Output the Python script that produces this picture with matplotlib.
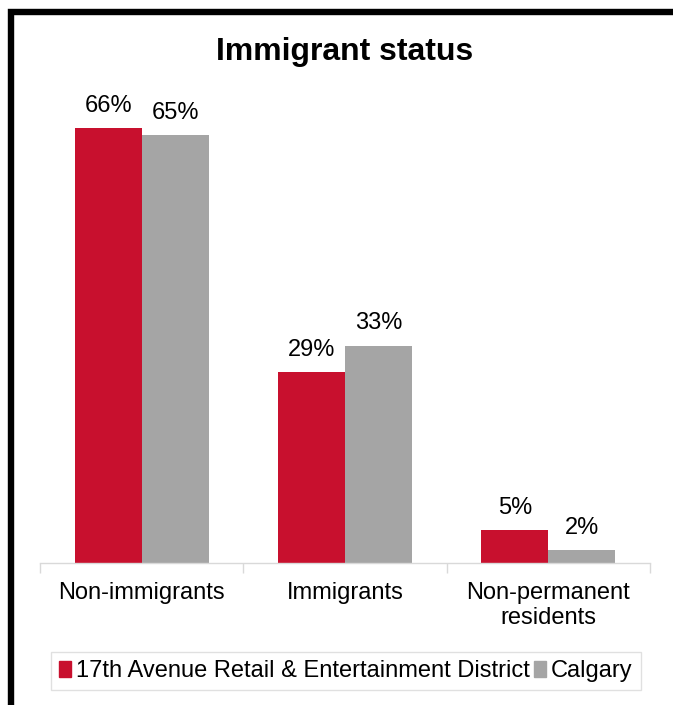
import matplotlib
matplotlib.use('agg')
import matplotlib.pyplot as plt
from matplotlib.patches import Patch, Rectangle
import numpy as np

categories = ['Non-immigrants', 'Immigrants', 'Non-permanent\nresidents']
district = [66, 29, 5]
calgary = [65, 33, 2]
series_names = ['17th Avenue Retail & Entertainment District', 'Calgary']

red = '#C8102E'
grey = '#A5A5A5'

plt.rcParams['font.family'] = ['Liberation Sans', 'DejaVu Sans']

W, H = 673, 705
fig = plt.figure(figsize=(W / 100, H / 100), dpi=100)

# axes placed in pixel terms
left, right, bottom, top = 40, 650, 563, 102
ax = fig.add_axes([left / W, 1 - bottom / H, (right - left) / W, (bottom - top) / H])

x = np.arange(len(categories))
w = 0.33
b1 = ax.bar(x - w / 2, district, w, color=red)
b2 = ax.bar(x + w / 2, calgary, w, color=grey)

for bars, vals in [(b1, district), (b2, calgary)]:
    for b, v in zip(bars, vals):
        ax.text(b.get_x() + b.get_width() / 2, v + 1.7, f'{v}%',
                ha='center', va='bottom', fontsize=17)

ax.set_xlim(-0.5, 2.5)
ax.set_ylim(0, 70)
ax.set_yticks([])
for s in ['top', 'right', 'left']:
    ax.spines[s].set_visible(False)
ax.spines['bottom'].set_color('#D9D9D9')
ax.spines['bottom'].set_linewidth(1)

ax.set_xticks([-0.5, 0.5, 1.5, 2.5])
ax.set_xticklabels([])
ax.tick_params(axis='x', length=7, color='#D9D9D9', width=1)
for i, c in enumerate(categories):
    ax.text(i, -2.9, c, ha='center', va='top', fontsize=17, linespacing=1.2)

fig.text(345 / W, 1 - 52 / H, 'Immigrant status', ha='center', va='center',
         fontsize=23, fontweight='bold')

handles = [Patch(color=red), Patch(color=grey)]
leg = fig.legend(handles, series_names, loc='center', bbox_to_anchor=(346 / W, 1 - 671 / H),
                 ncol=2, fontsize=17, frameon=True, fancybox=False,
                 handlelength=0.5, handleheight=0.65, handletextpad=0.2,
                 columnspacing=0.2, borderpad=0.35, borderaxespad=0)
leg.get_frame().set_edgecolor('#D9D9D9')
leg.get_frame().set_linewidth(1)

# outer black frame, cut off at right and bottom
fig.add_artist(Rectangle((11 / W, -0.1), 1.2, (1 - 12 / H) + 0.1, transform=fig.transFigure,
                         fill=False, edgecolor='black', linewidth=4.6))

fig.savefig('out.png', dpi=100)
